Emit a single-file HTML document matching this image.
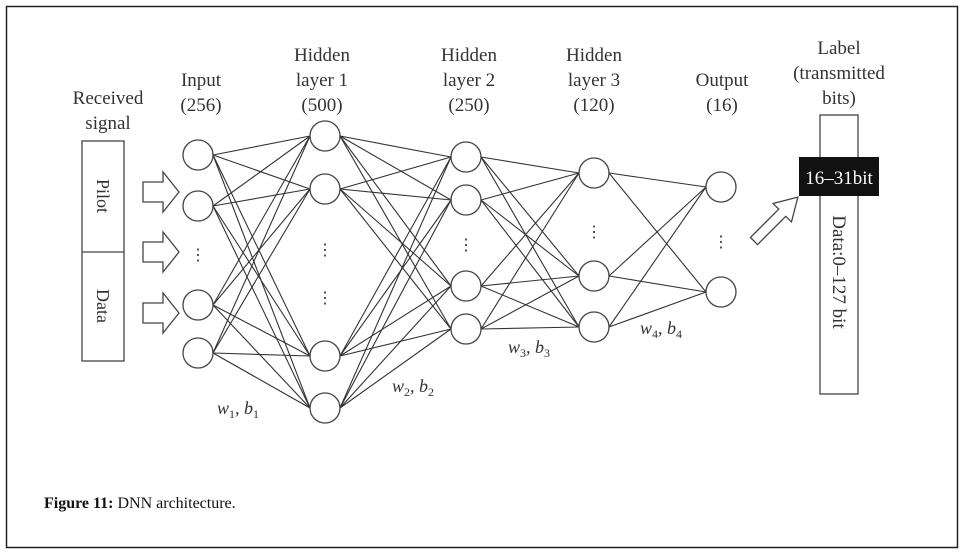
<!DOCTYPE html>
<html><head><meta charset="utf-8"><style>
html,body{margin:0;padding:0;background:#fff}
svg{display:block}
svg text{font-family:"Liberation Serif","DejaVu Serif",serif;fill:#333}
</style></head><body>
<svg width="964" height="554" viewBox="0 0 964 554" xmlns="http://www.w3.org/2000/svg" font-family="Liberation Serif, DejaVu Serif, serif">
<rect x="6.5" y="6.5" width="951" height="541" fill="none" stroke="#222" stroke-width="1.5"/>
<g stroke="#333" stroke-width="1.1" fill="none" id="lines"></g>
<rect x="82" y="141" width="42" height="220" fill="#fff" stroke="#444" stroke-width="1.3"/>
<line x1="82" y1="252" x2="124" y2="252" stroke="#444" stroke-width="1.3"/>
<text x="103" y="196" font-size="18" text-anchor="middle" transform="rotate(90 103 196)" dy="6" font-family="Liberation Serif, serif">Pilot</text>
<text x="103" y="306" font-size="18" text-anchor="middle" transform="rotate(90 103 306)" dy="6" font-family="Liberation Serif, serif">Data</text>
<g fill="#fff" stroke="#444" stroke-width="1.3">
<path d="M143,182 H163 V172 L179,192 L163,212 V202 H143 Z"/>
<path d="M143,242 H163 V232 L179,252 L163,272 V262 H143 Z"/>
<path d="M143,303 H163 V293 L179,313 L163,333 V323 H143 Z"/>
<path d="M0,-5 H40 V-13 L62,0 L40,13 V5 H0 Z" transform="translate(754,241) rotate(-45)"/>
</g>
<g id="nodes" fill="#fff" stroke="#444" stroke-width="1.3"></g>
<g font-size="16" text-anchor="middle" font-family="Liberation Serif, serif">
<text x="198" y="260">⋮</text>
<text x="325" y="255">⋮</text>
<text x="325" y="303">⋮</text>
<text x="466" y="250">⋮</text>
<text x="594" y="237">⋮</text>
<text x="721" y="247">⋮</text>
</g>
<g font-size="19" text-anchor="middle" font-family="Liberation Serif, serif">
<text x="108" y="104">Received</text><text x="108" y="129">signal</text>
<text x="201" y="86">Input</text><text x="201" y="111">(256)</text>
<text x="322" y="61">Hidden</text><text x="322" y="86">layer 1</text><text x="322" y="111">(500)</text>
<text x="469" y="61">Hidden</text><text x="469" y="86">layer 2</text><text x="469" y="111">(250)</text>
<text x="594" y="61">Hidden</text><text x="594" y="86">layer 3</text><text x="594" y="111">(120)</text>
<text x="722" y="86">Output</text><text x="722" y="111">(16)</text>
<text x="839" y="54">Label</text><text x="839" y="79">(transmitted</text><text x="839" y="104">bits)</text>
</g>
<g font-size="18" font-style="italic" font-family="Liberation Serif, serif">
<text x="217" y="414">w<tspan font-size="12" dy="4" font-style="normal">1</tspan><tspan dy="-4">, b</tspan><tspan font-size="12" dy="4" font-style="normal">1</tspan></text>
<text x="392" y="392">w<tspan font-size="12" dy="4" font-style="normal">2</tspan><tspan dy="-4">, b</tspan><tspan font-size="12" dy="4" font-style="normal">2</tspan></text>
<text x="508" y="353">w<tspan font-size="12" dy="4" font-style="normal">3</tspan><tspan dy="-4">, b</tspan><tspan font-size="12" dy="4" font-style="normal">3</tspan></text>
<text x="640" y="334">w<tspan font-size="12" dy="4" font-style="normal">4</tspan><tspan dy="-4">, b</tspan><tspan font-size="12" dy="4" font-style="normal">4</tspan></text>
</g>
<rect x="820" y="115" width="38" height="279" fill="#fff" stroke="#444" stroke-width="1.3"/>
<rect x="799" y="157" width="80" height="39" fill="#111"/>
<text x="839" y="184" font-size="19" text-anchor="middle" style="fill:#fff" font-family="Liberation Serif, serif">16–31bit</text>
<text x="839" y="272" font-size="19" text-anchor="middle" transform="rotate(90 839 272)" dy="6" font-family="Liberation Serif, serif">Data:0–127 bit</text>
<text x="44" y="508" font-size="16" style="fill:#111" font-family="Liberation Serif, serif"><tspan font-weight="bold">Figure 11:</tspan> DNN architecture.</text>
</svg>
<script>
(function(){
var L=[[198,[155,206,305,353]],[325,[136,189,356,408]],[466,[157,200,286,329]],[594,[173,276,327]],[721,[187,292]]];
var ns="http://www.w3.org/2000/svg",g=document.getElementById('lines'),n=document.getElementById('nodes'),r=15;
for(var i=0;i<L.length-1;i++){var a=L[i],b=L[i+1];a[1].forEach(function(y1){b[1].forEach(function(y2){var l=document.createElementNS(ns,'line');l.setAttribute('x1',a[0]+r);l.setAttribute('y1',y1);l.setAttribute('x2',b[0]-r);l.setAttribute('y2',y2);g.appendChild(l);});});}
L.forEach(function(c){c[1].forEach(function(y){var e=document.createElementNS(ns,'circle');e.setAttribute('cx',c[0]);e.setAttribute('cy',y);e.setAttribute('r',r);n.appendChild(e);});});
})();
</script>
</body></html>
